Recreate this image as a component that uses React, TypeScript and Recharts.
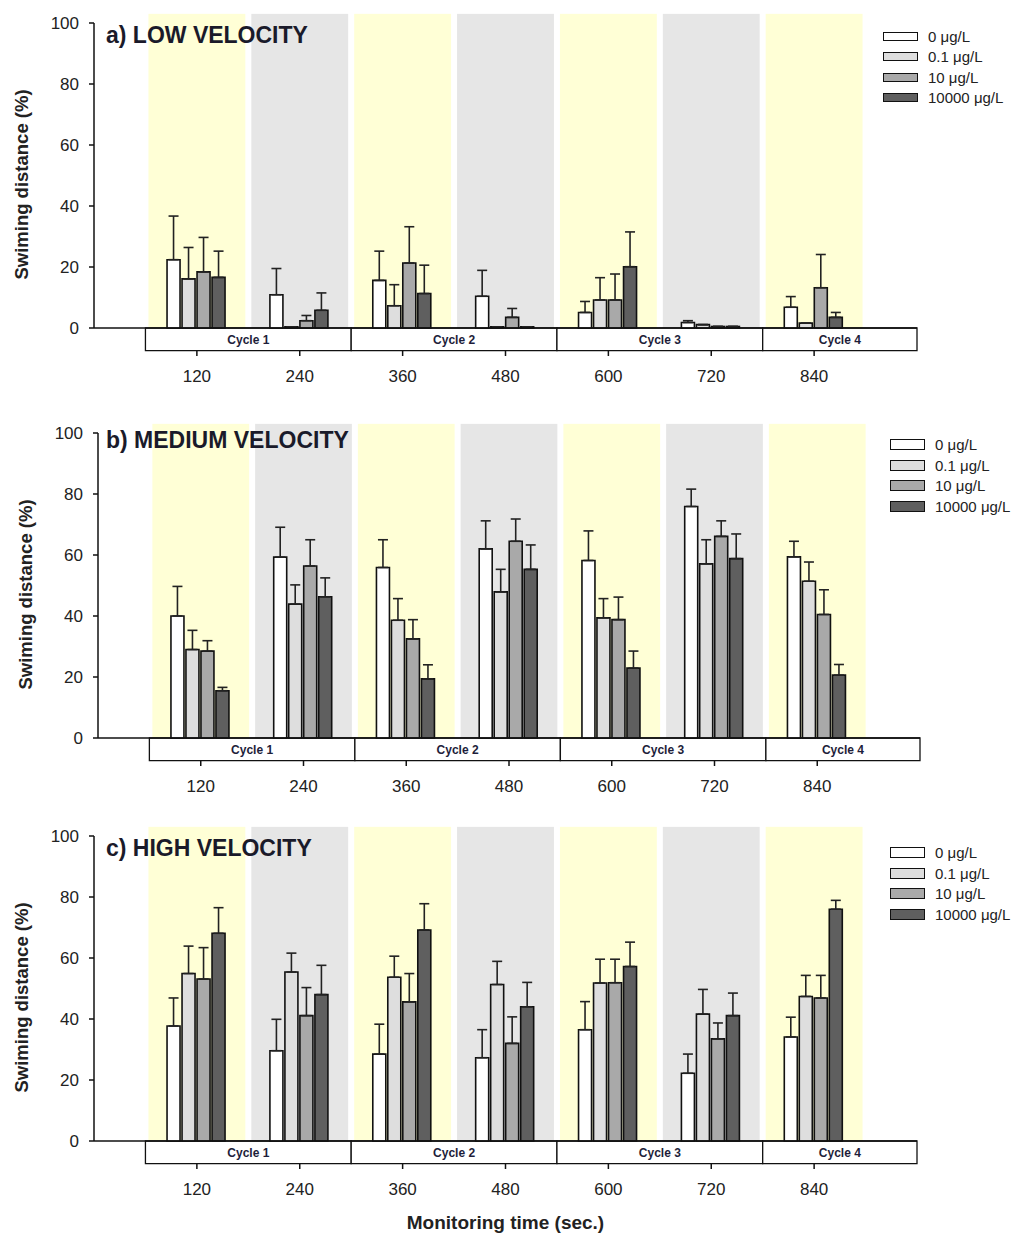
import React from 'react';
import { BarChart, Bar, XAxis, YAxis, ErrorBar, ReferenceArea, Legend } from 'recharts';

const TIMES = [120, 240, 360, 480, 600, 720, 840];
const CONC_LABELS = ['0 μg/L', '0.1 μg/L', '10 μg/L', '10000 μg/L'];
const CONC_FILLS = ['#ffffff', '#dedede', '#a9a9a9', '#5f5f5f'];
const CYCLE_NAMES = ['Cycle 1', 'Cycle 2', 'Cycle 3', 'Cycle 4'];
const CYCLE_EDGES = [60, 300, 540, 780, 960];
const Y_TICKS = [0, 20, 40, 60, 80, 100];

// a) low velocity
const LOW_MEAN_0 = [22.4, 10.9, 15.6, 10.4, 5.1, 1.8, 6.8];
const LOW_MEAN_01 = [16.1, 0.4, 7.3, 0.4, 9.2, 1.1, 1.6];
const LOW_MEAN_10 = [18.4, 2.4, 21.3, 3.5, 9.2, 0.5, 13.2];
const LOW_MEAN_10000 = [16.6, 5.8, 11.3, 0.4, 20.1, 0.5, 3.5];
const LOW_SD_0 = [14.3, 8.6, 9.6, 8.5, 3.6, 0.6, 3.5];
const LOW_SD_01 = [10.3, 0, 6.9, 0, 7.3, 0, 0];
const LOW_SD_10 = [11.3, 1.7, 11.9, 2.9, 8.5, 0, 10.9];
const LOW_SD_10000 = [8.6, 5.7, 9.3, 0, 11.4, 0, 1.6];

// b) medium velocity
const MED_MEAN_0 = [40.0, 59.3, 55.9, 62.0, 58.2, 75.9, 59.4];
const MED_MEAN_01 = [29.0, 43.9, 38.6, 47.9, 39.4, 57.1, 51.4];
const MED_MEAN_10 = [28.5, 56.4, 32.5, 64.5, 38.8, 66.1, 40.5];
const MED_MEAN_10000 = [15.5, 46.3, 19.4, 55.3, 22.9, 58.8, 20.6];
const MED_SD_0 = [9.7, 9.8, 9.1, 9.2, 9.7, 5.7, 5.1];
const MED_SD_01 = [6.3, 6.3, 7.1, 7.4, 6.3, 7.9, 6.3];
const MED_SD_10 = [3.4, 8.6, 6.3, 7.3, 7.4, 5.1, 8.1];
const MED_SD_10000 = [1.1, 6.2, 4.6, 8.0, 5.6, 8.1, 3.5];

// c) high velocity
const HIGH_MEAN_0 = [37.7, 29.6, 28.5, 27.3, 36.5, 22.2, 34.1];
const HIGH_MEAN_01 = [54.9, 55.4, 53.7, 51.3, 51.8, 41.6, 47.4];
const HIGH_MEAN_10 = [53.1, 41.1, 45.6, 32.0, 51.9, 33.5, 46.9];
const HIGH_MEAN_10000 = [68.1, 48.0, 69.2, 44.0, 57.2, 41.1, 76.0];
const HIGH_SD_0 = [9.2, 10.3, 9.8, 9.2, 9.2, 6.3, 6.5];
const HIGH_SD_01 = [9.0, 6.2, 6.9, 7.6, 7.8, 8.1, 6.9];
const HIGH_SD_10 = [10.3, 9.2, 9.3, 8.7, 7.7, 5.2, 7.4];
const HIGH_SD_10000 = [8.4, 9.6, 8.6, 8.0, 8.0, 7.4, 2.9];

const FONT = '"Liberation Sans", Arial, sans-serif';
const INK = '#222';
const YELLOW = '#ffffd6';
const GRAY = '#e6e6e6';
const PLOT_H = 305;
const TOP_M = 15;
const XAXIS_H = 70;
const BAND_TOP = 103;
const BOX_BOTTOM = -7.4;

const PANELS = [
  {
    title: 'a) LOW VELOCITY',
    means: [LOW_MEAN_0, LOW_MEAN_01, LOW_MEAN_10, LOW_MEAN_10000],
    sds: [LOW_SD_0, LOW_SD_01, LOW_SD_10, LOW_SD_10000],
    plotTop: 23, left: 94, right: 917, legendX: 883, legendY: 36.5, boxH: 9, titleDy: 12, bottom: 10, axisTitle: false,
  },
  {
    title: 'b) MEDIUM VELOCITY',
    means: [MED_MEAN_0, MED_MEAN_01, MED_MEAN_10, MED_MEAN_10000],
    sds: [MED_SD_0, MED_SD_01, MED_SD_10, MED_SD_10000],
    plotTop: 433, left: 98, right: 920, legendX: 890, legendY: 445, boxH: 11, titleDy: 7, bottom: 10, axisTitle: false,
  },
  {
    title: 'c) HIGH VELOCITY',
    means: [HIGH_MEAN_0, HIGH_MEAN_01, HIGH_MEAN_10, HIGH_MEAN_10000],
    sds: [HIGH_SD_0, HIGH_SD_01, HIGH_SD_10, HIGH_SD_10000],
    plotTop: 836, left: 94, right: 917, legendX: 890, legendY: 853, boxH: 11, titleDy: 12, bottom: 34, axisTitle: true,
  },
];

const TimeTick = (props: any) => {
  const { x, y, payload } = props;
  return (
    <g>
      <line x1={x} x2={x} y1={y + 23} y2={y + 28} stroke="#111" strokeWidth={1.5} />
      <text x={x} y={y + 54} textAnchor="middle" fontSize={17} fill={INK} fontFamily={FONT}>
        {payload.value}
      </text>
    </g>
  );
};

const bandShape = (color: string) => (p: any) => (
  <rect x={p.x + 3} y={p.y} width={Math.max(0, p.width - 6)} height={p.height} fill={color} />
);

function LegendBlock({ boxH }: { boxH: number }) {
  return (
    <div style={{ fontFamily: FONT, fontSize: 15, color: INK }}>
      {CONC_LABELS.map((name, i) => (
        <div key={name} style={{ display: 'flex', alignItems: 'center', height: 20.4 }}>
          <div
            style={{
              width: 35,
              height: boxH,
              background: CONC_FILLS[i],
              border: '1.5px solid #111',
              boxSizing: 'border-box',
            }}
          />
          <span style={{ marginLeft: 10, whiteSpace: 'nowrap' }}>{name}</span>
        </div>
      ))}
    </div>
  );
}

function Panel({ cfg }: { cfg: any }) {
  const data = TIMES.map((t, i) => ({
    time: String(t),
    t,
    m0: cfg.means[0][i],
    m1: cfg.means[1][i],
    m2: cfg.means[2][i],
    m3: cfg.means[3][i],
    e0: [0, cfg.sds[0][i]],
    e1: [0, cfg.sds[1][i]],
    e2: [0, cfg.sds[2][i]],
    e3: [0, cfg.sds[3][i]],
  }));
  const plotW = cfg.right - cfg.left;
  const pad = plotW / 16;
  const height = TOP_M + PLOT_H + XAXIS_H + cfg.bottom;
  const chartTop = cfg.plotTop - TOP_M;

  const yTitle = () => {
    const cx = cfg.left - 73;
    const cy = TOP_M + PLOT_H / 2 + 9;
    return (
      <text
        x={cx}
        y={cy}
        transform={`rotate(-90 ${cx} ${cy})`}
        textAnchor="middle"
        dominantBaseline="central"
        fontSize={18.5}
        fontWeight="bold"
        fill={INK}
        fontFamily={FONT}
      >
        Swiming distance (%)
      </text>
    );
  };

  return (
    <div style={{ position: 'absolute', left: 0, top: chartTop, width: 1014, height }}>
      <BarChart
        width={1014}
        height={height}
        data={data}
        margin={{ top: TOP_M, right: 1014 - cfg.right, bottom: cfg.bottom, left: 0 }}
        barCategoryGap="21%"
        barGap={2}
      >
        <XAxis xAxisId="num" type="number" dataKey="t" domain={[0, 960]} hide />
        <XAxis
          xAxisId="cat"
          dataKey="time"
          type="category"
          padding={{ left: pad, right: pad }}
          height={XAXIS_H}
          interval={0}
          axisLine={{ stroke: '#111', strokeWidth: 1.5 }}
          tickLine={false}
          tickSize={0}
          tickMargin={0}
          tick={<TimeTick />}
          label={
            cfg.axisTitle
              ? {
                  value: 'Monitoring time (sec.)',
                  position: 'bottom',
                  offset: 5,
                  style: { fontSize: 19, fontWeight: 'bold', fill: INK, fontFamily: FONT },
                }
              : undefined
          }
        />
        <YAxis
          width={cfg.left}
          domain={[0, 100]}
          ticks={Y_TICKS}
          interval={0}
          axisLine={{ stroke: '#111', strokeWidth: 1.5 }}
          tickLine={{ stroke: '#111', strokeWidth: 1.5 }}
          tickSize={5}
          tickMargin={10}
          tick={{ fontSize: 17, fill: INK, fontFamily: FONT }}
          label={yTitle}
        />
        {TIMES.map((t, i) => (
          <ReferenceArea
            key={`band-${t}`}
            xAxisId="num"
            x1={t - 60}
            x2={t + 60}
            y1={0}
            y2={BAND_TOP}
            ifOverflow="visible"
            shape={bandShape(i % 2 === 0 ? YELLOW : GRAY)}
          />
        ))}
        {CYCLE_NAMES.map((name, i) => (
          <ReferenceArea
            key={name}
            xAxisId="num"
            x1={CYCLE_EDGES[i]}
            x2={CYCLE_EDGES[i + 1]}
            y1={BOX_BOTTOM}
            y2={0}
            ifOverflow="visible"
            fill="#ffffff"
            fillOpacity={1}
            stroke="#111"
            strokeWidth={1.3}
            label={{
              value: name,
              position: 'center',
              fontSize: 12,
              fontWeight: 'bold',
              fill: '#1e1e3a',
              fontFamily: FONT,
            }}
          />
        ))}
        {CONC_LABELS.map((name, k) => (
          <Bar
            key={name}
            xAxisId="cat"
            dataKey={`m${k}`}
            name={name}
            fill={CONC_FILLS[k]}
            stroke="#111"
            strokeWidth={1.6}
            isAnimationActive={false}
          >
            <ErrorBar dataKey={`e${k}`} direction="y" width={5} stroke={INK} strokeWidth={1.6} />
          </Bar>
        ))}
        <Legend
          layout="horizontal"
          verticalAlign="middle"
          align="center"
          wrapperStyle={{ left: cfg.legendX, top: cfg.legendY - chartTop - 10.2, width: 130 }}
          content={() => <LegendBlock boxH={cfg.boxH} />}
        />
      </BarChart>
      <div
        style={{
          position: 'absolute',
          left: 106,
          top: TOP_M + cfg.titleDy - 13,
          fontFamily: FONT,
          fontSize: 23,
          lineHeight: '26px',
          fontWeight: 'bold',
          color: '#1a1a2a',
          whiteSpace: 'nowrap',
        }}
      >
        {cfg.title}
      </div>
    </div>
  );
}

export default function App() {
  return (
    <div style={{ position: 'absolute', left: 0, top: 0, width: 1014, height: 1236, background: '#fff' }}>
      {PANELS.map((cfg) => (
        <Panel key={cfg.title} cfg={cfg} />
      ))}
    </div>
  );
}
